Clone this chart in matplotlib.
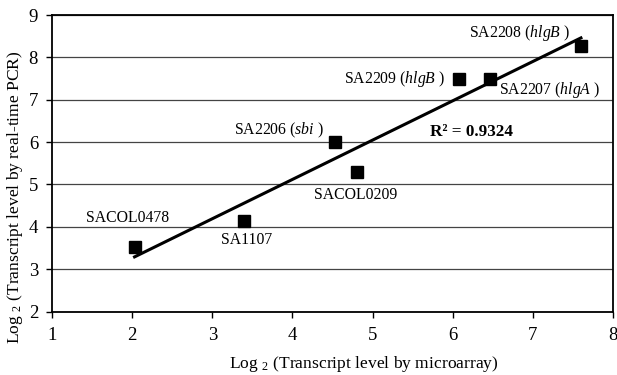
import numpy as np
import matplotlib.pyplot as plt

# microarray vs real-time PCR (log2)
genes = ['SACOL0478', 'SA1107', 'SA2206', 'SACOL0209', 'SA2209', 'SA2207', 'SA2208']
microarray = [2.03, 3.39, 4.53, 4.81, 6.08, 6.47, 7.60]
rt_pcr = [3.53, 4.14, 6.00, 5.30, 7.50, 7.50, 8.27]
labels = ['SACOL0478', 'SA1107', r'SA2206 ($\mathit{sbi}$ )', 'SACOL0209',
          r'SA2209 ($\mathit{hlgB}$ )', r'SA2207 ($\mathit{hlgA}$ )', r'SA2208 ($\mathit{hlgB}$ )']
label_x = [1.94, 3.43, 3.83, 4.79, 5.27, 7.21, 6.84]
label_y = [4.20, 3.69, 6.28, 4.75, 7.50, 7.22, 8.57]
r2_text = 'R² = 0.9324'

plt.rcParams['font.family'] = ['Liberation Serif', 'DejaVu Serif']
plt.rcParams['mathtext.fontset'] = 'custom'
plt.rcParams['mathtext.rm'] = 'Liberation Serif'
plt.rcParams['mathtext.it'] = 'Liberation Serif:italic'
plt.rcParams['mathtext.bf'] = 'Liberation Serif:bold'

fig = plt.figure(figsize=(6.17, 3.75), dpi=100)
ax = fig.add_axes([0.0843, 0.1693, 0.9092, 0.7907])

ax.set_xlim(1, 8)
ax.set_ylim(2, 9)
ax.set_xticks(range(1, 9))
ax.set_yticks(range(2, 10))
ax.yaxis.grid(True, color='#444444', linewidth=0.9)
ax.set_axisbelow(True)
for s in ax.spines.values():
    s.set_linewidth(1.3)
    s.set_color('black')
ax.tick_params(axis='x', direction='out', length=4, width=1, pad=7, labelsize=13.5)
ax.tick_params(axis='y', direction='out', length=4, width=1, pad=6, labelsize=13.5)

# regression line over the data range
slope, intercept = np.polyfit(microarray, rt_pcr, 1)
xs = np.array([min(microarray), max(microarray)])
ax.plot(xs, slope * xs + intercept, color='black', linewidth=2.2, zorder=3)

ax.plot(microarray, rt_pcr, 's', color='black', markersize=8.5, zorder=4)

for t, x, y in zip(labels, label_x, label_y):
    ax.text(x, y, t, ha='center', va='center', fontsize=11.3)
ax.text(6.23, 6.24, r2_text, ha='center', va='center', fontsize=12.3, fontweight='bold')

fig.text(364 / 617, 1 - 364 / 375, r'Log $_{2}$ (Transcript level by microarray)',
         fontsize=12.6, ha='center', va='center')
fig.text(15 / 617, 1 - 197 / 375, r'Log $_{2}$ (Transcript level by real-time PCR)',
         fontsize=12.6, ha='center', va='center', rotation=90)

plt.savefig('out.png', dpi=100)
